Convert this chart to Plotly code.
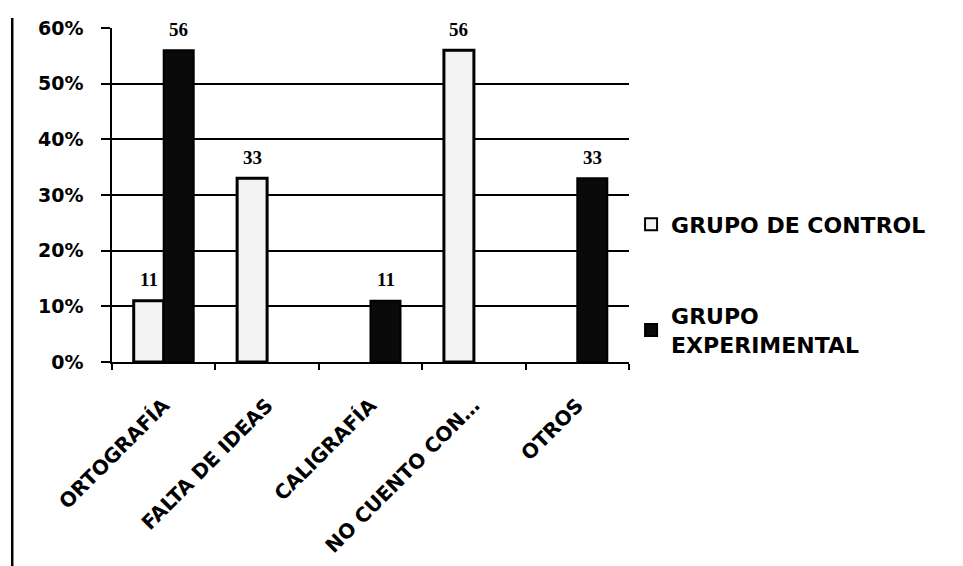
import plotly.graph_objects as go

categories = ["ORTOGRAFÍA", "FALTA DE IDEAS", "CALIGRAFÍA", "NO CUENTO CON…", "OTROS"]
control = [11, 33, None, 56, None]
experimental = [56, None, 11, None, 33]
y_ticks = [0, 10, 20, 30, 40, 50, 60]

def frac(vals):
    return [v / 100 if v is not None else None for v in vals]

fig = go.Figure()
fig.add_trace(go.Bar(
    name="GRUPO DE CONTROL", x=categories, y=frac(control),
    marker=dict(color="#f3f3f3", line=dict(color="black", width=3)),
    legendgroup="a",
))
fig.add_trace(go.Bar(
    name="GRUPO<br>EXPERIMENTAL", x=categories, y=frac(experimental),
    marker=dict(color="#0a0a0a", line=dict(color="black", width=2)),
    legendgroup="b",
))

# data labels above each bar
label_font = dict(family="Liberation Serif", size=19, color="black", weight="bold")
for vals, shift in ((control, -15), (experimental, 15)):
    for cat, v in zip(categories, vals):
        if v:
            fig.add_annotation(x=cat, y=v / 100, text=str(v), showarrow=False,
                               xshift=shift, yshift=21, font=label_font,
                               bgcolor="white", borderpad=1)

fig.update_layout(
    width=955, height=558,
    margin=dict(l=104, r=334, t=20, b=204, autoexpand=False),
    paper_bgcolor="white", plot_bgcolor="white",
    barmode="group", bargap=0.42, bargroupgap=0,
    font=dict(family="DejaVu Sans", size=19, color="black"),
    showlegend=True,
    legend=dict(x=1.004, y=0.475, xanchor="left", yanchor="top",
                font=dict(family="DejaVu Sans", size=22, color="black", weight="bold"),
                tracegroupgap=60, itemsizing="constant"),
)
fig.update_xaxes(
    type="category", tickangle=-45, tickson="boundaries",
    ticks="outside", ticklen=6, tickcolor="black", tickwidth=1.5,
    ticklabelstandoff=22,
    showline=True, linecolor="black", linewidth=1.5, automargin=False,
    tickfont=dict(family="DejaVu Sans", size=20, color="black", weight="bold"),
)
fig.update_yaxes(
    range=[0, 0.6], tickvals=[t / 100 for t in y_ticks], tickformat=".0%",
    showgrid=True, gridcolor="black", gridwidth=1.5,
    ticks="outside", ticklen=9, tickcolor="black", tickwidth=1.5,
    ticklabelstandoff=14,
    showline=True, linecolor="black", linewidth=1.5, automargin=False,
    zeroline=False,
    tickfont=dict(family="DejaVu Sans", size=19, color="black", weight="bold"),
)
fig.add_shape(type="line", xref="paper", yref="paper",
              x0=-0.193, x1=-0.193, y0=1.03, y1=-0.62,
              line=dict(color="black", width=2.5))

fig.write_html("out.html")
